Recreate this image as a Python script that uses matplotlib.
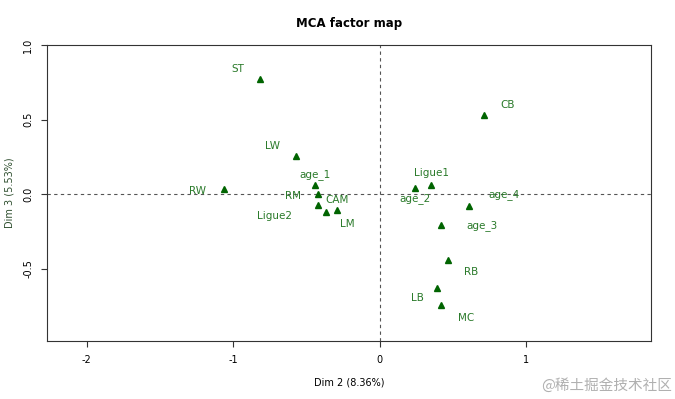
import matplotlib

matplotlib.use("Agg")
import matplotlib.pyplot as plt

# category coordinates on Dim 2 / Dim 3
labels = ["ST", "LW", "age_1", "RW", "RM", "Ligue2", "LM", "CAM",
          "CB", "Ligue1", "age_2", "age_4", "age_3", "RB", "LB", "MC"]
dim2 = [-0.82, -0.57, -0.44, -1.065, -0.42, -0.42, -0.37, -0.29,
        0.71, 0.35, 0.24, 0.61, 0.42, 0.465, 0.39, 0.42]
dim3 = [0.77, 0.255, 0.06, 0.034, 0.0, -0.075, -0.12, -0.107,
        0.53, 0.06, 0.04, -0.08, -0.21, -0.44, -0.63, -0.745]
# where the (auto-placed) labels ended up
lab_x = [-0.97, -0.73, -0.44, -1.24, -0.59, -0.72, -0.22, -0.29,
         0.87, 0.35, 0.24, 0.85, 0.70, 0.62, 0.26, 0.59]
lab_y = [0.84, 0.32, 0.13, 0.02, -0.01, -0.15, -0.20, -0.04,
         0.60, 0.14, -0.03, 0.0, -0.21, -0.52, -0.70, -0.83]

xticks = [-2, -1, 0, 1]
yticks = [-0.5, 0.0, 0.5, 1.0]

fig = plt.figure(figsize=(6.75, 3.99), dpi=100)
ax = fig.add_axes([0.0696, 0.1454, 0.8948, 0.7418])

ax.axhline(0, color="#555555", lw=0.8, ls=(0, (3, 3)))
ax.axvline(0, color="#555555", lw=0.8, ls=(0, (3, 3)))
ax.plot(dim2, dim3, ls="none", marker="^", ms=4.2, color="#006400")
for t, x, y in zip(labels, lab_x, lab_y):
    ax.text(x, y, t, color="#2a7a2a", fontsize=7.5, ha="center", va="center")

ax.set_xlim(-2.27, 1.85)
ax.set_ylim(-0.985, 1.0)
ax.set_xticks(xticks)
ax.set_xticklabels([str(v) for v in xticks])
ax.set_yticks(yticks)
ax.set_yticklabels([f"{v:.1f}" for v in yticks], rotation=90, va="center")
ax.tick_params(labelsize=7, length=4, width=0.8, color="#333333", pad=6)
for s in ax.spines.values():
    s.set_color("#333333")
    s.set_linewidth(0.8)

ax.set_xlabel("Dim 2 (8.36%)", fontsize=7, labelpad=9)
ax.set_ylabel("Dim 3 (5.53%)", fontsize=7, labelpad=6, color="#2f4f2f")
ax.set_title("MCA factor map", fontsize=8.5, fontweight="bold", pad=13)

fig.text(0.995, 0.033, "@稀土掘金技术社区", ha="right", va="center", fontsize=10.5,
         color="#b0b0b0", family=["Noto Sans CJK SC", "DejaVu Sans"])

fig.savefig("out.png", dpi=100)
